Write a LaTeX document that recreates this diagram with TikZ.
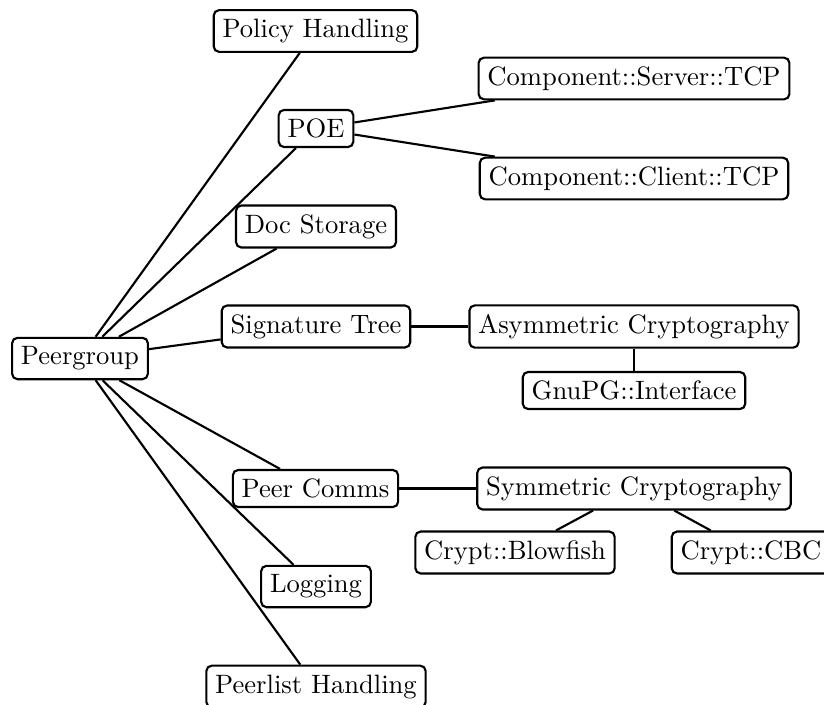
\documentclass[tikz,border=0pt]{standalone}
\usepackage{amsmath, amssymb, amsfonts}
\usepackage{tikz}
\usetikzlibrary{positioning, fit, arrows.meta}

\begin{document}
\begin{tikzpicture}[x=0.376pt, y=-0.376pt, thick,
                    every node/.style={draw, rectangle, rounded corners=2pt}]
                  \useasboundingbox (0,0) rectangle (824,704);
                  \node (pg) at (80,358.5) {Peergroup};
                  \node (pol) at (315.5,31) {Policy Handling};
                  \node (poe) at (316,128.5) {POE};
                  \node (srv) at (634,78.5) {Component::Server::TCP};
                  \node (cli) at (634,178.5) {Component::Client::TCP};
                  \node (doc) at (316,226.5) {Doc Storage};
                  \node (sig) at (316,326.5) {Signature Tree};
                  \node (asym) at (634,326.5) {Asymmetric Cryptography};
                  \node (gpg) at (634,390.5) {GnuPG::Interface};
                  \node (pc) at (315.5,488.5) {Peer Comms};
                  \node (sym) at (634,488.5) {Symmetric Cryptography};
                  \node (bf) at (515,552.5) {Crypt::Blowfish};
                  \node (cbc) at (751,552.5) {Crypt::CBC};
                  \node (log) at (316,586.5) {Logging};
                  \node (pl) at (316,686.5) {Peerlist Handling};
                  \draw (pg) -- (pol);
                  \draw (pg) -- (poe);
                  \draw (pg) -- (doc);
                  \draw (pg) -- (sig);
                  \draw (pg) -- (pc);
                  \draw (pg) -- (log);
                  \draw (pg) -- (pl);
                  \draw (poe) -- (srv);
                  \draw (poe) -- (cli);
                  \draw (sig) -- (asym);
                  \draw (asym) -- (gpg);
                  \draw (pc) -- (sym);
                  \draw (sym) -- (bf);
                  \draw (sym) -- (cbc);
              \end{tikzpicture}
\end{document}
